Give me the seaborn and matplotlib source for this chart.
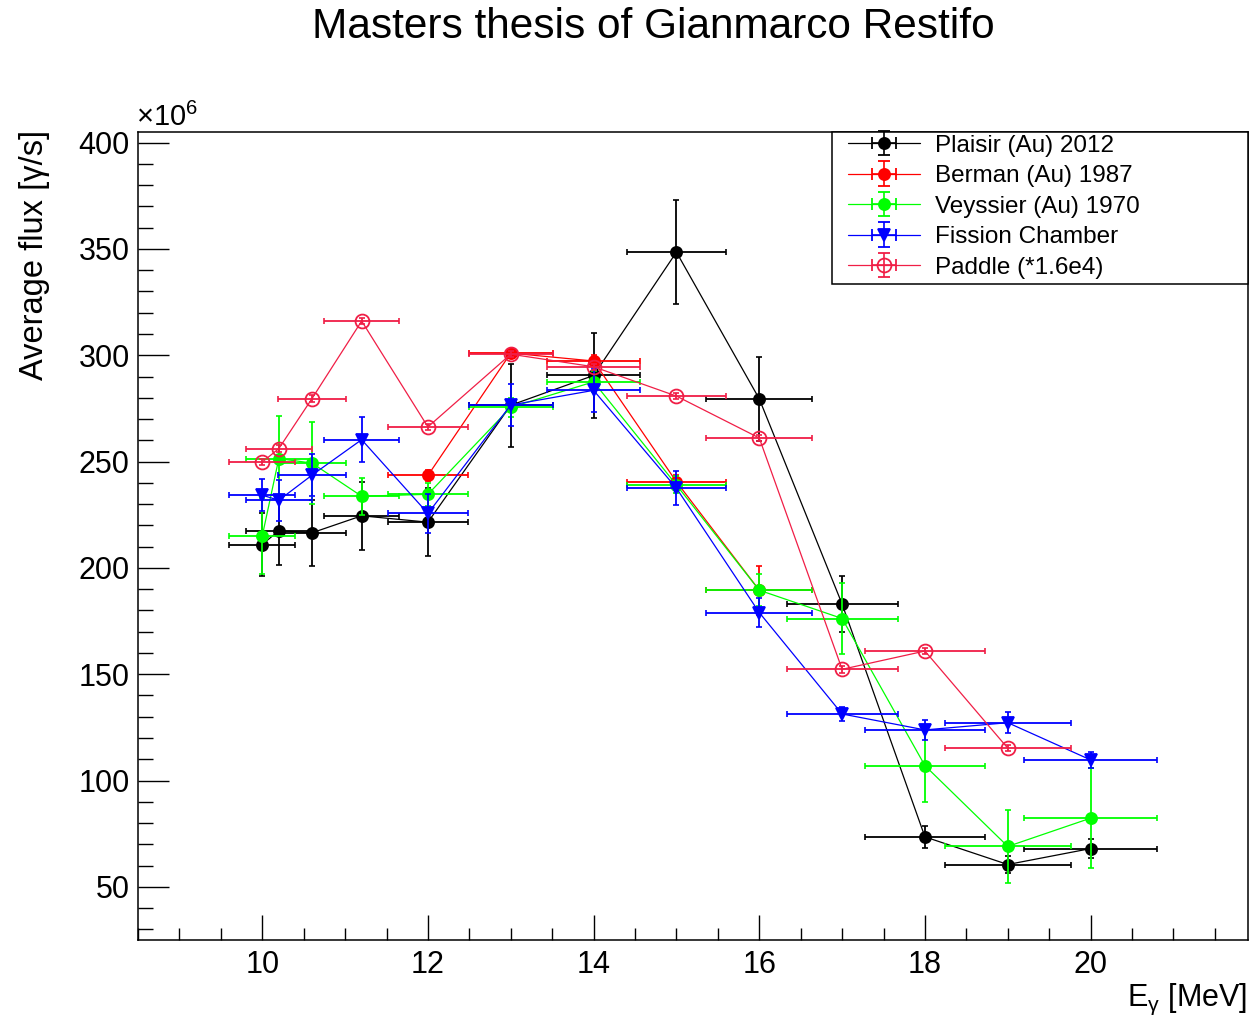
import numpy as np
import pandas as pd
import matplotlib
matplotlib.use("Agg")
import matplotlib.pyplot as plt
from matplotlib.ticker import MultipleLocator
from matplotlib.patches import Rectangle
import seaborn as sns

# ---------------- data ----------------
energy = [10, 10.2, 10.6, 11.2, 12, 13, 14, 15, 16, 17, 18, 19, 20]
energy_err = [0.40, 0.40, 0.41, 0.45, 0.48, 0.51, 0.56, 0.60, 0.64, 0.67, 0.72, 0.76, 0.80]

plaisir_flux = [211, 217.5, 216.5, 224.5, 221.5, 276.5, 290.5, 348.5, 279.5, 183, 73.5, 60.5, 68]
plaisir_err = [15, 16, 15.5, 16, 16, 19.5, 20, 24.5, 19.7, 13, 5, 4, 4.5]

berman_energy = [12, 13, 14, 15, 16]
berman_energy_err = [0.48, 0.51, 0.56, 0.60, 0.64]
berman_flux = [243.5, 301, 297.3, 240.5, 189.5]
berman_err = [2.5, 2, 3, 3, 11.5]

veyssier_flux = [215, 251.4, 249.3, 233.7, 234.6, 275.5, 287.5, 239, 189.5, 176.2, 107, 69, 82.3]
veyssier_err = [18, 20, 19.3, 8.6, 5.5, 4.5, 5, 4, 7.5, 16.8, 17, 17, 23.5]

fission_flux = [234.2, 231.8, 243.6, 260.3, 225.6, 276.6, 283.5, 237.5, 179, 131.3, 123.8, 127.2, 109.7]
fission_err = [7.4, 9.7, 9.9, 10.5, 9.1, 10, 10, 8, 6.7, 3.5, 4.7, 4.9, 3.7]

paddle_energy = [10, 10.2, 10.6, 11.2, 12, 13, 14, 15, 16, 17, 18, 19]
paddle_energy_err = [0.40, 0.40, 0.41, 0.45, 0.48, 0.51, 0.56, 0.60, 0.64, 0.67, 0.72, 0.76]
paddle_flux = [249.8, 256.1, 279.6, 316.1, 266.3, 300.5, 294.6, 280.8, 261.1, 152.3, 160.9, 115.2]
paddle_err = [1.5, 1.5, 1.5, 1.5, 1.5, 1.5, 1.5, 1.5, 1.5, 1.5, 1.5, 1.5]

series_names = ["Plaisir (Au) 2012", "Berman (Au) 1987", "Veyssier (Au) 1970",
                "Fission Chamber", "Paddle (*1.6e4)"]
series_colors = ["#000000", "#FF0000", "#00FF00", "#0000FF", "#F01E46"]

# ---------------- style ----------------
sns.set_theme(style="ticks")
plt.rcParams["font.family"] = ["Liberation Sans", "DejaVu Sans"]
plt.rcParams["mathtext.fontset"] = "custom"
plt.rcParams["mathtext.rm"] = "Liberation Sans"
plt.rcParams["mathtext.it"] = "Liberation Sans:italic"
plt.rcParams["axes.edgecolor"] = "black"
plt.rcParams["axes.linewidth"] = 1.1
plt.rcParams["xtick.color"] = "black"
plt.rcParams["ytick.color"] = "black"
plt.rcParams["text.color"] = "black"

W, H = 1251, 1015
fig = plt.figure(figsize=(W / 100, H / 100), dpi=100)
fig.patch.set_facecolor("white")
left, right, top, bottom = 138, 1248, 132, 940
ax = fig.add_axes([left / W, 1 - bottom / H, (right - left) / W, (bottom - top) / H])
ax.set_facecolor("white")

series = [
    (energy, energy_err, plaisir_flux, plaisir_err, "o", True, 8),
    (berman_energy, berman_energy_err, berman_flux, berman_err, "o", True, 8),
    (energy, energy_err, veyssier_flux, veyssier_err, "o", True, 8),
    (energy, energy_err, fission_flux, fission_err, "v", True, 9),
    (paddle_energy, paddle_energy_err, paddle_flux, paddle_err, "o", False, 10),
]

for i, (xs, xe, ys, ye, mk, filled, ms) in enumerate(series):
    c = series_colors[i]
    fc = c if filled else "none"
    ax.errorbar(xs, ys, xerr=xe, yerr=ye, fmt="none", ecolor=c, elinewidth=1.3,
                capsize=2.5, capthick=1.2, zorder=2 + i)
    df = pd.DataFrame({"E": xs, "flux": ys})
    sns.lineplot(data=df, x="E", y="flux", ax=ax, sort=False, estimator=None,
                 color=c, linewidth=0.9, marker=mk, markersize=ms,
                 markeredgecolor=c, markerfacecolor=fc, markeredgewidth=1.3,
                 zorder=2.5 + i)

# legend proxies (nothing drawn)
handles = []
for i, (xs, xe, ys, ye, mk, filled, ms) in enumerate(series):
    c = series_colors[i]
    h = ax.errorbar([np.nan], [np.nan], xerr=[0.3], yerr=[5], fmt=mk, linestyle="-",
                    color=c, mfc=(c if filled else "none"), mec=c, ms=ms, mew=1.3,
                    lw=0.9, elinewidth=1.2, capsize=4, capthick=1.2,
                    label=series_names[i])
    handles.append(h)

ax.set_xlim(8.5, 21.9)
ax.set_ylim(25, 405)
ax.xaxis.set_major_locator(MultipleLocator(2))
ax.xaxis.set_minor_locator(MultipleLocator(0.5))
ax.yaxis.set_major_locator(MultipleLocator(50))
ax.yaxis.set_minor_locator(MultipleLocator(10))
ax.tick_params(axis="y", which="major", direction="in", length=22, width=1, labelsize=22, pad=6)
ax.tick_params(axis="y", which="minor", direction="in", length=11, width=1)
ax.tick_params(axis="x", which="major", direction="in", length=18, width=1, labelsize=22, pad=7)
ax.tick_params(axis="x", which="minor", direction="in", length=9, width=1)
ax.set_xlabel("")
ax.set_ylabel("")
for s in ax.spines.values():
    s.set_visible(True)
    s.set_color("black")

# legend box (ROOT-like TLegend frame)
def ax_x(px):
    return (px - left) / (right - left)

def ax_y(py):
    return (bottom - py) / (bottom - top)

frame = Rectangle((ax_x(832), ax_y(284)), ax_x(1248) - ax_x(832), ax_y(132) - ax_y(284),
                  transform=ax.transAxes, facecolor="white", edgecolor="black",
                  linewidth=1.1, zorder=9, clip_on=False)
ax.add_patch(frame)

leg = ax.legend(handles=handles, labels=series_names, loc="upper left",
                bbox_to_anchor=(ax_x(848), ax_y(134.5)), borderaxespad=0,
                fontsize=17.5, frameon=False, labelspacing=0.35, borderpad=0,
                handlelength=2.96, handletextpad=0.62)
leg.set_zorder(10)

fig.text(0.522, 1 - 27 / H, "Masters thesis of Gianmarco Restifo", ha="center",
         va="center", fontsize=30.5)
fig.text(136 / W, 1 - 126 / H, "×10$^{\\mathregular{6}}$", ha="left", va="baseline",
         fontsize=21)
fig.text(35 / W, 1 - 130 / H, "Average flux [γ/s]", rotation=90, ha="center",
         va="top", fontsize=23.5)
fig.text(1247 / W, 1 - 1006 / H, "E$_{\\mathregular{γ}}$ [MeV]", ha="right",
         va="baseline", fontsize=22)

fig.savefig("out.png", dpi=100, facecolor="white")
